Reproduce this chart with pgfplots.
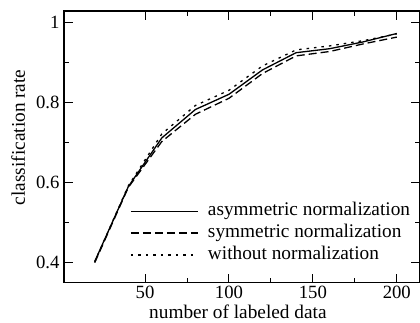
\documentclass[border=0pt]{standalone}
\usepackage{fontspec}
\setmainfont{Liberation Serif}
\usepackage{pgfplots}
\pgfplotsset{compat=1.18}
\begin{document}
\begin{tikzpicture}
\useasboundingbox (0,0) rectangle (420pt,323pt);
\begin{axis}[
  at={(64pt,40.3pt)}, anchor=south west,
  scale only axis, width=355.6pt, height=271.6pt,
  xmin=1.7, xmax=213.6, ymin=0.35, ymax=1.029,
  xtick={50,100,150,200}, ytick={0.4,0.6,0.8,1},
  minor x tick num=1, minor y tick num=1,
  tick align=inside, major tick length=8.5pt, minor tick length=5pt,
  every tick/.style={black, line width=1pt},
  axis line style={line width=1.2pt},
  /pgf/number format/assume math mode=true,
  tick label style={font=\fontsize{18.7}{21}\selectfont},
  yticklabel style={xshift=-1pt},
  label style={font=\fontsize{19.3}{22}\selectfont},
  xlabel={number of labeled data},
  ylabel={classification rate},
  xlabel style={at={(axis description cs:0.489,0)}, anchor=base, yshift=-36.3pt},
  ylabel style={at={(axis description cs:-0.1097,0.535)}, anchor=base},
  legend style={draw=none, fill=none, font=\fontsize{19.3}{22}\selectfont,
    at={(axis description cs:0.1856,0.295)}, anchor=north west, inner sep=0pt,
    row sep=4.8pt, nodes={inner sep=0pt, text height=13pt, text depth=4pt}},
  legend cell align=left,
  legend image code/.code={\draw[#1] (0pt,0pt) -- (67pt,0pt); \path (76.5pt,0pt);},
]
\addplot[black, line width=1.3pt] coordinates {(20,0.403) (40,0.59) (60,0.712) (80,0.783) (100,0.821) (120,0.882) (140,0.925) (160,0.935) (180,0.952) (200,0.973)};
\addlegendentry{asymmetric normalization}
\addplot[black, line width=1.3pt, dash pattern=on 8pt off 4pt] coordinates {(20,0.400) (40,0.588) (60,0.703) (80,0.771) (100,0.811) (120,0.873) (140,0.917) (160,0.928) (180,0.947) (200,0.964)};
\addlegendentry{symmetric normalization}
\addplot[black, line width=1.3pt, dash pattern=on 2.5pt off 5pt] coordinates {(20,0.402) (40,0.592) (60,0.722) (80,0.793) (100,0.831) (120,0.892) (140,0.932) (160,0.942) (180,0.955) (200,0.972)};
\addlegendentry{without normalization}
\end{axis}
\end{tikzpicture}
\end{document}
